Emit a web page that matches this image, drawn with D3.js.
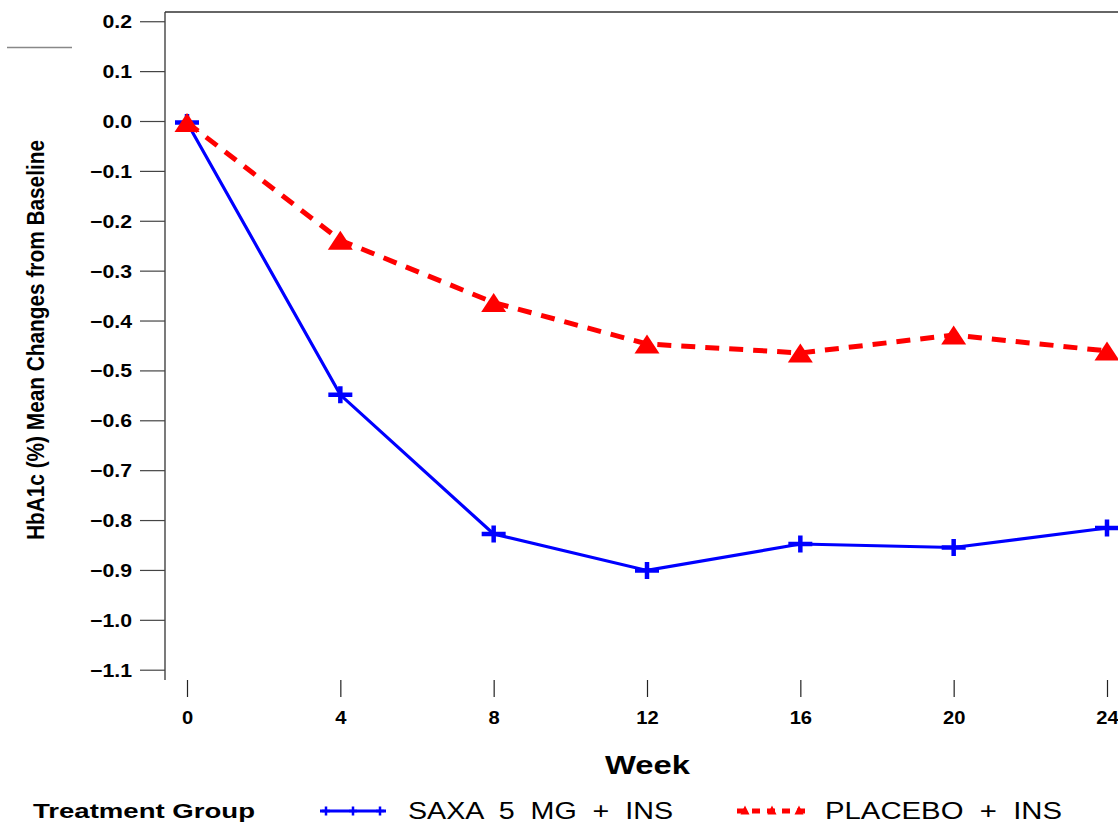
<!DOCTYPE html>
<html>
<head>
<meta charset="utf-8">
<script src="https://cdn.jsdelivr.net/npm/d3@7"></script>
<style>
  html, body { margin: 0; padding: 0; background: #fff; }
  svg { display: block; }
  text { font-family: "Liberation Sans", Arial, sans-serif; fill: #000; white-space: pre; }
</style>
</head>
<body>
<svg id="chart" width="1118" height="823"></svg>
<script>
// ---- data ----
const weeks = [0, 4, 8, 12, 16, 20, 24];
const saxaValues = [-0.003, -0.549, -0.828, -0.901, -0.848, -0.855, -0.816];
const placeboValues = [-0.003, -0.239, -0.364, -0.447, -0.465, -0.429, -0.461];
const yTicks = [0.2, 0.1, 0.0, -0.1, -0.2, -0.3, -0.4, -0.5, -0.6, -0.7, -0.8, -0.9, -1.0, -1.1];
const seriesNames = ["SAXA 5 MG + INS", "PLACEBO + INS"];
const legendTitle = "Treatment Group";
const xTitle = "Week";
const yTitle = "HbA1c (%) Mean Changes from Baseline";

const svg = d3.select("#chart");

const x = d3.scaleLinear().domain([0, 24]).range([187, 1107]);
const y = d3.scaleLinear().domain([0, -1.1]).range([121, 669.7]);

// frame: left axis line and top border
svg.append("line").attr("x1", 165).attr("x2", 165).attr("y1", 12).attr("y2", 680)
  .attr("stroke", "#333").attr("stroke-width", 1.3);
svg.append("line").attr("x1", 165).attr("x2", 1118).attr("y1", 12).attr("y2", 12)
  .attr("stroke", "#333").attr("stroke-width", 1.3);
// stray grey line top-left
svg.append("line").attr("x1", 7).attr("x2", 72).attr("y1", 47.5).attr("y2", 47.5)
  .attr("stroke", "#888").attr("stroke-width", 1.3);

// y axis
const yAxis = d3.axisLeft(y).tickValues(yTicks).tickSize(25).tickPadding(8)
  .tickFormat(d => { const s = d3.format(".1f")(Math.abs(d)); return d < -1e-9 ? "\u2212" + s : s; });
const gy = svg.append("g").attr("transform", "translate(165,0)").call(yAxis);
gy.attr("font-size", null).attr("font-family", null);
gy.select(".domain").remove();
gy.selectAll(".tick line").attr("stroke", "#444").attr("stroke-width", 1.2);
gy.selectAll(".tick text")
  .attr("font-size", 18).attr("font-weight", "bold")
  .attr("dy", "0.36em")
  .each(function () {
    const w = this.getComputedTextLength();
    d3.select(this).attr("textLength", w * 1.18).attr("lengthAdjust", "spacingAndGlyphs");
  });

// x axis (ticks only, no domain line)
const xAxis = d3.axisBottom(x).tickValues(weeks).tickSize(17).tickPadding(14).tickFormat(d3.format("d"));
const gx = svg.append("g").attr("transform", "translate(0,680)").call(xAxis);
gx.attr("font-size", null).attr("font-family", null);
gx.select(".domain").remove();
gx.selectAll(".tick line").attr("stroke", "#222").attr("stroke-width", 1.2);
gx.selectAll(".tick text")
  .attr("font-size", 18).attr("font-weight", "bold")
  .each(function () {
    const w = this.getComputedTextLength();
    d3.select(this).attr("textLength", w * 1.12).attr("lengthAdjust", "spacingAndGlyphs");
  });

// axis titles
svg.append("text").attr("x", 605).attr("y", 774)
  .style("font-size", "25px").style("font-weight", "bold")
  .attr("textLength", 85).attr("lengthAdjust", "spacingAndGlyphs").text(xTitle);
svg.append("text").attr("transform", "translate(44,340) rotate(-90)")
  .attr("text-anchor", "middle").style("font-size", "24px").style("font-weight", "bold")
  .attr("textLength", 400).attr("lengthAdjust", "spacingAndGlyphs")
  .text(yTitle);

// lines
const lineGen = d3.line().x(d => x(d[0])).y(d => y(d[1]));
const saxaData = weeks.map((w, i) => [w, saxaValues[i]]);
const placeboData = weeks.map((w, i) => [w, placeboValues[i]]);

svg.append("path").datum(saxaData).attr("d", lineGen)
  .attr("fill", "none").attr("stroke", "#0000ff").attr("stroke-width", 3.2);
svg.append("path").datum(placeboData).attr("d", lineGen)
  .attr("fill", "none").attr("stroke", "#ff0000").attr("stroke-width", 5)
  .attr("stroke-dasharray", "14,10");

// markers
function plusPath(cx, cy, w, h) {
  return `M${cx - w / 2},${cy}L${cx + w / 2},${cy}M${cx},${cy - h / 2}L${cx},${cy + h / 2}`;
}
function triPath(cx, cy, w, h) {
  return `M${cx},${cy - h / 2}L${cx + w / 2},${cy + h / 2}L${cx - w / 2},${cy + h / 2}Z`;
}
svg.append("g").selectAll("path").data(saxaData).join("path")
  .attr("d", d => plusPath(x(d[0]), y(d[1]), 24, 17))
  .attr("stroke", "#0000ff").attr("stroke-width", 4.5).attr("fill", "none");
svg.append("g").selectAll("path").data(placeboData).join("path")
  .attr("d", d => triPath(x(d[0]), y(d[1]), 25, 19))
  .attr("fill", "#ff0000");

// legend
svg.append("text").attr("x", 33).attr("y", 818).style("font-size", "21px").style("font-weight", "bold")
  .attr("textLength", 222).attr("lengthAdjust", "spacingAndGlyphs").text(legendTitle);

const ly = 811;
svg.append("line").attr("x1", 320).attr("x2", 386).attr("y1", ly).attr("y2", ly)
  .attr("stroke", "#0000ff").attr("stroke-width", 3);
[326, 353, 380].forEach(cx => {
  svg.append("path").attr("d", plusPath(cx, ly, 8, 9)).attr("stroke", "#0000ff")
    .attr("stroke-width", 2.5).attr("fill", "none");
});
svg.append("text").attr("x", 408).attr("y", 819).style("font-size", "24px")
  .attr("textLength", 265).attr("lengthAdjust", "spacingAndGlyphs")
  .text(seriesNames[0].replace(/ /g, "  "));

svg.append("line").attr("x1", 737).attr("x2", 807).attr("y1", ly).attr("y2", ly)
  .attr("stroke", "#ff0000").attr("stroke-width", 5).attr("stroke-dasharray", "8,7");
[745, 772, 799].forEach(cx => {
  svg.append("path").attr("d", triPath(cx, ly - 1, 9, 9)).attr("fill", "#ff0000");
});
svg.append("text").attr("x", 825).attr("y", 819).style("font-size", "24px")
  .attr("textLength", 237).attr("lengthAdjust", "spacingAndGlyphs")
  .text(seriesNames[1].replace(/ /g, "  "));
</script>
</body>
</html>
